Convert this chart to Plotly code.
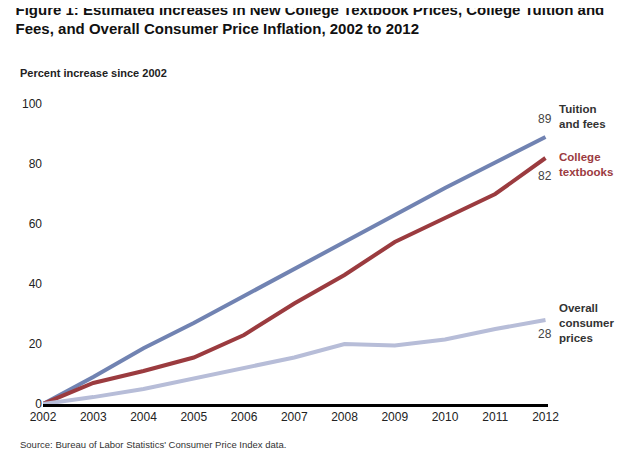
import plotly.graph_objects as go

years = list(range(2002, 2013))
tuition = [0, 9, 18.6, 27, 36, 45, 54, 63, 72, 80.5, 89]
textbooks = [0, 7, 11, 15.5, 23, 33.5, 43, 54, 62, 70, 82]
cpi = [0, 2.3, 5, 8.5, 12, 15.5, 20, 19.5, 21.5, 25, 28]

series = [
    (tuition, "#7183b2"),
    (textbooks, "#9b3b3f"),
    (cpi, "#b7bdd8"),
]

fig = go.Figure()
for vals, color in series:
    fig.add_trace(go.Scatter(x=years, y=vals, mode="lines",
                             line=dict(color=color, width=4), showlegend=False))

# end value labels and series names
fig.add_annotation(x=2012, y=89, text="89", showarrow=False, yshift=18, font=dict(size=12, color="#444"))
fig.add_annotation(x=2012, y=82, text="82", showarrow=False, yshift=-18, font=dict(size=12, color="#444"))
fig.add_annotation(x=2012, y=28, text="28", showarrow=False, yshift=-14, font=dict(size=12, color="#444"))
fig.add_annotation(x=2012, y=96, text="<b>Tuition<br>and fees</b>", showarrow=False, xanchor="left",
                   xshift=12, align="left", font=dict(size=11.5, color="#333"))
fig.add_annotation(x=2012, y=80, text="<b>College<br>textbooks</b>", showarrow=False, xanchor="left",
                   xshift=12, align="left", font=dict(size=11.5, color="#9b3b3f"))
fig.add_annotation(x=2012, y=27, text="<b>Overall<br>consumer<br>prices</b>", showarrow=False, xanchor="left",
                   xshift=12, align="left", font=dict(size=11.5, color="#333"))

fig.update_layout(
    width=627, height=454,
    paper_bgcolor="white", plot_bgcolor="white",
    margin=dict(l=35, r=87, t=96, b=58),
    font=dict(family="Liberation Sans, Arial", color="#222"),
    title=dict(text="<b>Figure 1: Estimated Increases in New College Textbook Prices, College Tuition and<br>Fees, and Overall Consumer Price Inflation, 2002 to 2012</b>",
               x=0.012, xanchor="left", yref="container", y=0.985, yanchor="top",
               font=dict(size=15, color="#111")),
    xaxis=dict(range=[2002, 2012.05], tickvals=years, showgrid=False, ticks="", zeroline=False,
               showline=True, linecolor="black", linewidth=3,
               tickfont=dict(size=12, color="#222"), fixedrange=True),
    yaxis=dict(range=[0, 100], tickvals=[0, 20, 40, 60, 80, 100], showgrid=False, zeroline=False,
               ticks="", tickfont=dict(size=12, color="#222"), fixedrange=True),
)
fig.add_annotation(xref="paper", yref="paper", x=-0.05, y=1.13, text="<b>Percent increase since 2002</b>",
                   showarrow=False, xanchor="left", font=dict(size=11, color="#222"))
fig.add_annotation(xref="paper", yref="paper", x=-0.05, y=-0.16, text="Source: Bureau of Labor Statistics' Consumer Price Index data.",
                   showarrow=False, xanchor="left", font=dict(size=9.5, color="#333"))

fig.write_html("out.html")
